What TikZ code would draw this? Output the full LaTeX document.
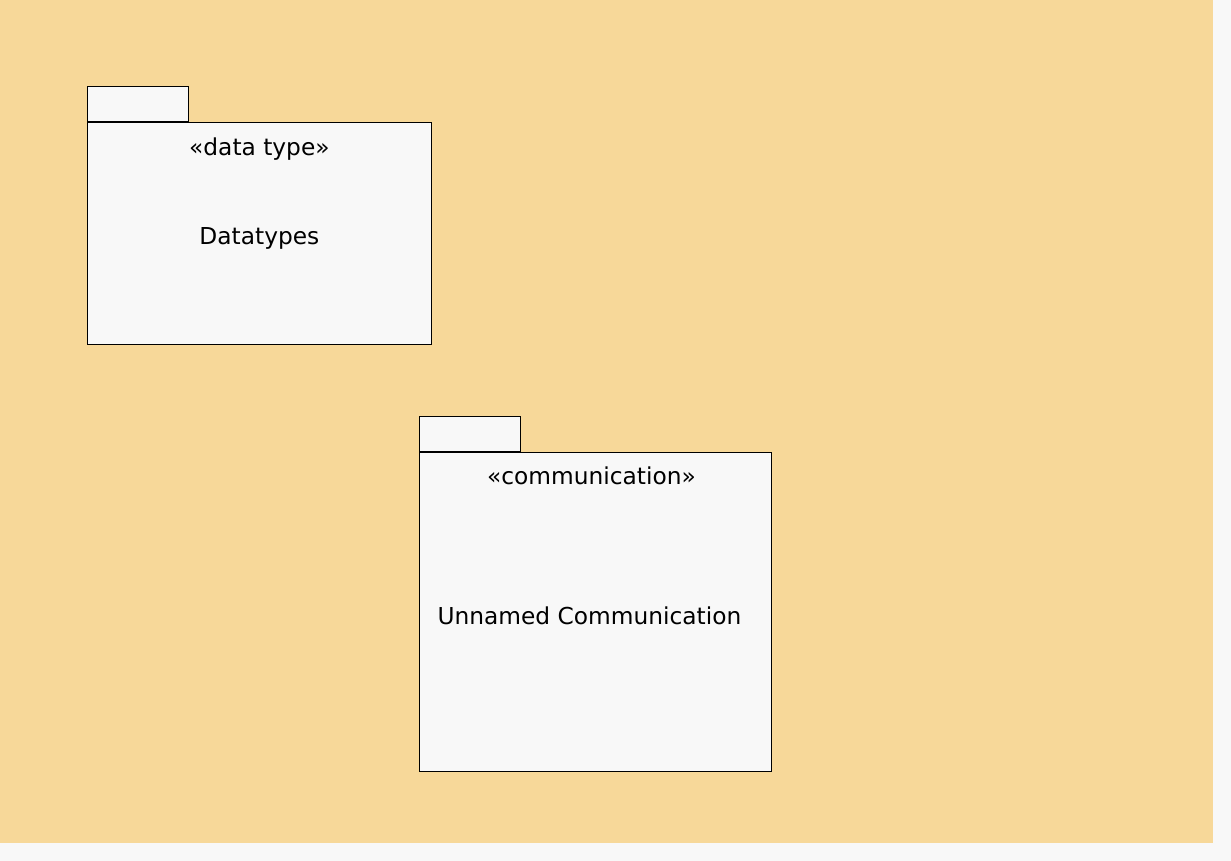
\documentclass[tikz,border=0pt]{standalone}
\usepackage{fontspec}
\setmainfont{DejaVu Sans}
\usetikzlibrary{positioning}
\definecolor{canvas}{RGB}{247,216,153}
\definecolor{paper}{RGB}{248,248,248}

\begin{document}
\begin{tikzpicture}[x=1pt,y=-1pt,line width=0.8pt,font=\fontsize{23.3}{27}\selectfont,
  pkg/.style={draw,fill=paper,rectangle,inner sep=0pt,anchor=north west},
  tab/.style={draw,fill=paper,rectangle,inner sep=0pt,minimum width=101pt,minimum height=35pt,anchor=south west},
  stereo/.style={inner sep=0pt,anchor=center}]
  \fill[paper](0,0) rectangle (1231,861);
  \fill[canvas](0,0) rectangle (1213,843);

  \node[pkg,minimum width=344pt,minimum height=222pt](dt) at (87,122) {};
  \node[tab](dttab) at (dt.north west) {};
  \node[stereo](dtst)[below=15pt of dt.north] {«data type»};
  \node[stereo](dtname) at ([yshift=-5pt]dt.center) {Datatypes};

  \node[pkg,minimum width=352pt,minimum height=319pt](com) at (419,452) {};
  \node[tab](comtab) at (com.north west) {};
  \node[stereo](comst)[below=14pt of com.north,xshift=-4pt] {«communication»};
  \node[stereo](comname) at ([xshift=-6pt,yshift=-4pt]com.center) {Unnamed Communication};
\end{tikzpicture}
\end{document}
